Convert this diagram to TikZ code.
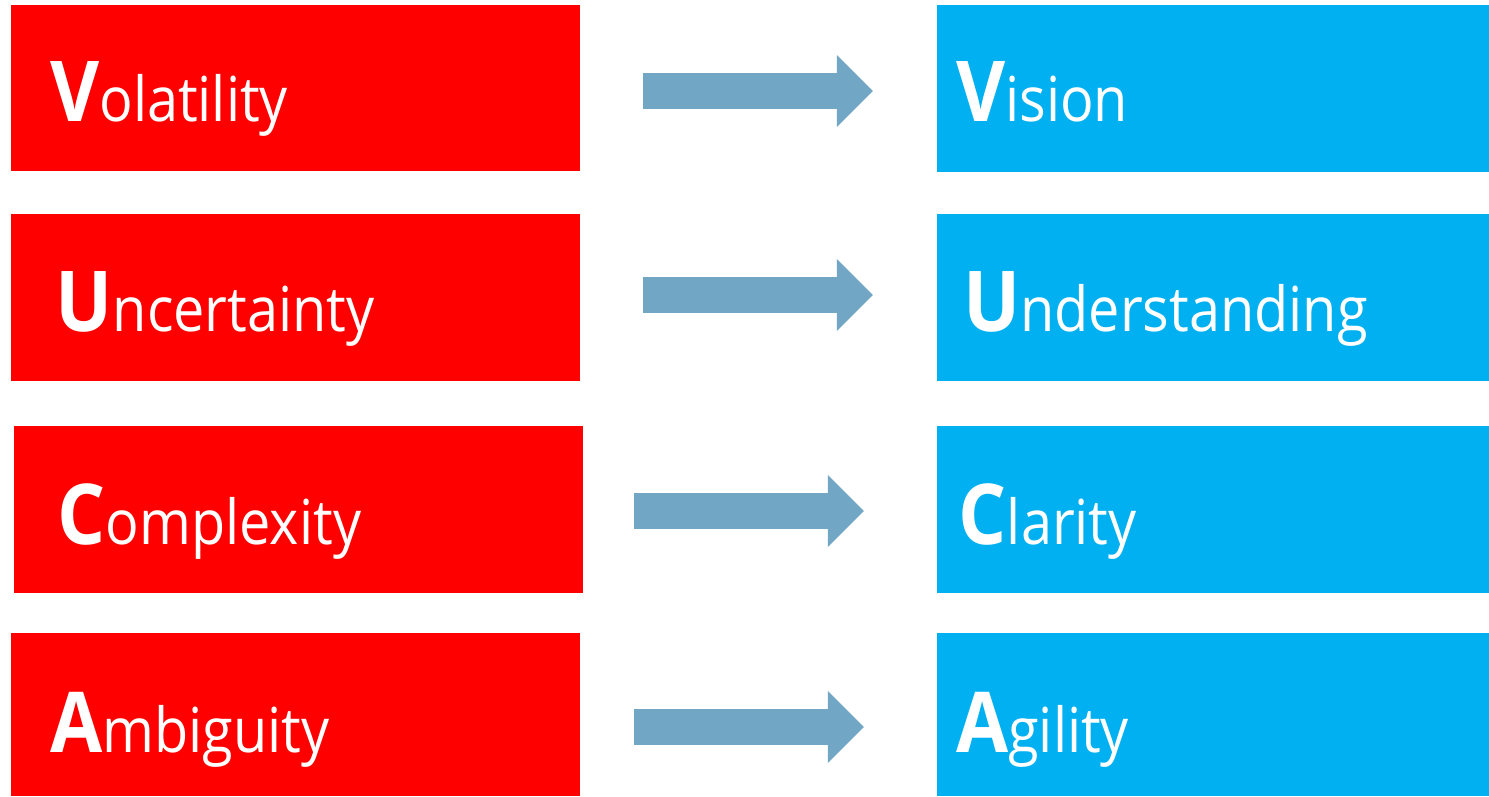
\documentclass[tikz,border=0pt]{standalone}
\usepackage{fontspec}
\setmainfont{Open Sans}[FakeStretch=0.9]
\usetikzlibrary{arrows.meta}
\definecolor{vred}{RGB}{255,0,0}
\definecolor{vblue}{RGB}{0,176,240}
\definecolor{vsteel}{RGB}{114,166,197}
\newcommand{\bigini}[1]{{\fontsize{84}{84}\selectfont\bfseries #1}}

\begin{document}
\begin{tikzpicture}[x=1pt,y=-1pt,
    redbox/.style={rectangle,fill=vred,minimum width=569pt,inner sep=0pt},
    bluebox/.style={rectangle,fill=vblue,minimum width=552pt,inner sep=0pt},
    word/.style={anchor=base west,text=white,inner sep=0pt,font=\fontsize{62}{70}\selectfont},
    blockarrow/.style={vsteel,line width=36pt,-{Triangle[length=36pt,width=72pt,line width=0pt]}}]
    \useasboundingbox (0,0) rectangle (1489,797);

    % left column
    \node[redbox,minimum height=166pt] (vol) at (295.5,88) {};
    \node[redbox,minimum height=167pt] (unc) at (295.5,297.5) {};
    \node[redbox,minimum height=167pt] (cpx) at (298.5,509.5) {};
    \node[redbox,minimum height=163pt] (amb) at (295.5,714.5) {};

    % right column
    \node[bluebox,minimum height=167pt] (vis) at (1213,88.5) {};
    \node[bluebox,minimum height=167pt] (und) at (1213,297.5) {};
    \node[bluebox,minimum height=167pt] (cla) at (1213,509.5) {};
    \node[bluebox,minimum height=163pt] (agi) at (1213,714.5) {};

    \node[word] (volw) at (50,122) {\bigini{V}olatility};
    \node[word] (uncw) at (55.5,331) {\bigini{U}ncertainty};
    \node[word] (cpxw) at (57.5,544) {\bigini{C}omplexity};
    \node[word] (ambw) at (50,752) {\bigini{A}mbiguity};

    \node[word] (visw) at (956,122) {\bigini{V}ision};
    \node[word] (undw) at (963,331) {\bigini{U}nderstanding};
    \node[word] (claw) at (958.5,544) {\bigini{C}larity};
    \node[word] (agiw) at (956,752) {\bigini{A}gility};

    \draw[blockarrow] ([shift={(63,3)}]vol.east) -- ([shift={(-64,2.5)}]vis.west);
    \draw[blockarrow] ([shift={(63,-2.5)}]unc.east) -- ([shift={(-64,-2.5)}]und.west);
    \draw[blockarrow] ([shift={(51,1.5)}]cpx.east) -- ([shift={(-73,1.5)}]cla.west);
    \draw[blockarrow] ([shift={(54,12.5)}]amb.east) -- ([shift={(-73,12.5)}]agi.west);
\end{tikzpicture}
\end{document}
